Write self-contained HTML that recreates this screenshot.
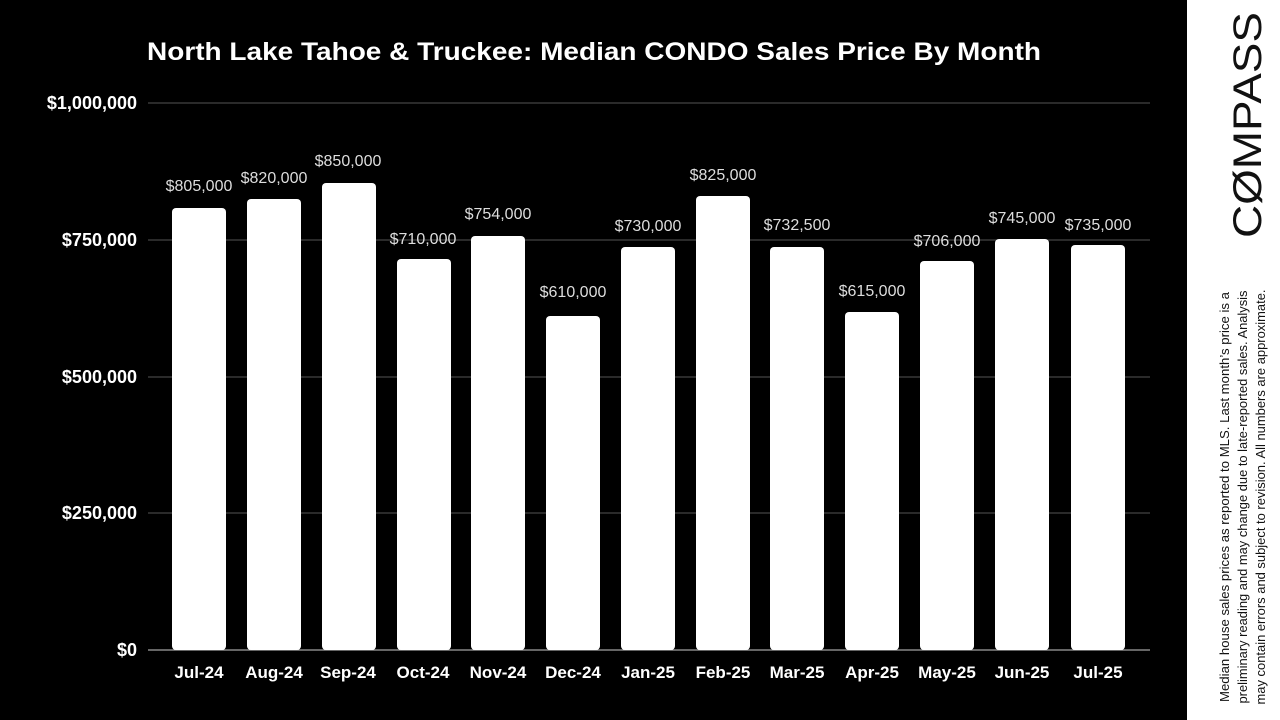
<!DOCTYPE html>
<html><head><meta charset="utf-8"><style>
html,body{margin:0;padding:0;background:#000;width:1280px;height:720px;overflow:hidden}
</style></head><body>
<svg width="1280" height="720" xmlns="http://www.w3.org/2000/svg" font-family="Liberation Sans, Arial, sans-serif">
<rect x="0" y="0" width="1280" height="720" fill="#000"/>
<rect x="1187" y="0" width="93" height="720" fill="#fff"/>
<text x="594" y="60" fill="#fff" font-size="25" font-weight="bold" text-anchor="middle" textLength="894" lengthAdjust="spacingAndGlyphs">North Lake Tahoe &amp; Truckee: Median CONDO Sales Price By Month</text>
<g stroke="#555" stroke-width="1">
<line x1="148" y1="103" x2="1150" y2="103"/>
<line x1="148" y1="240" x2="1150" y2="240"/>
<line x1="148" y1="377" x2="1150" y2="377"/>
<line x1="148" y1="513" x2="1150" y2="513"/>
</g>
<line x1="148" y1="650" x2="1150" y2="650" stroke="#ccc" stroke-width="1"/>
<g fill="#fff" font-size="18" font-weight="bold" text-anchor="end">
<text x="137" y="109">$1,000,000</text>
<text x="137" y="246">$750,000</text>
<text x="137" y="383">$500,000</text>
<text x="137" y="519">$250,000</text>
<text x="137" y="656">$0</text>
</g>
<g fill="#fff" font-size="17" font-weight="bold" text-anchor="middle">
<text x="199" y="678">Jul-24</text><text x="274" y="678">Aug-24</text><text x="348" y="678">Sep-24</text><text x="423" y="678">Oct-24</text><text x="498" y="678">Nov-24</text><text x="573" y="678">Dec-24</text><text x="648" y="678">Jan-25</text><text x="723" y="678">Feb-25</text><text x="797" y="678">Mar-25</text><text x="872" y="678">Apr-25</text><text x="947" y="678">May-25</text><text x="1022" y="678">Jun-25</text><text x="1098" y="678">Jul-25</text>
</g>
<g fill="#fff">
<rect x="172" y="208" width="54" height="442" rx="4"/>
<rect x="247" y="199" width="54" height="451" rx="4"/>
<rect x="322" y="183" width="54" height="467" rx="4"/>
<rect x="397" y="259" width="54" height="391" rx="4"/>
<rect x="471" y="236" width="54" height="414" rx="4"/>
<rect x="546" y="316" width="54" height="334" rx="4"/>
<rect x="621" y="247" width="54" height="403" rx="4"/>
<rect x="696" y="196" width="54" height="454" rx="4"/>
<rect x="770" y="247" width="54" height="403" rx="4"/>
<rect x="845" y="312" width="54" height="338" rx="4"/>
<rect x="920" y="261" width="54" height="389" rx="4"/>
<rect x="995" y="239" width="54" height="411" rx="4"/>
<rect x="1071" y="245" width="54" height="405" rx="4"/>
</g>
<g fill="#ddd" font-size="16" text-anchor="middle">
<text x="199" y="191">$805,000</text>
<text x="274" y="183">$820,000</text>
<text x="348" y="166">$850,000</text>
<text x="423" y="244">$710,000</text>
<text x="498" y="219">$754,000</text>
<text x="573" y="297">$610,000</text>
<text x="648" y="231">$730,000</text>
<text x="723" y="180">$825,000</text>
<text x="797" y="230">$732,500</text>
<text x="872" y="296">$615,000</text>
<text x="947" y="246">$706,000</text>
<text x="1022" y="223">$745,000</text>
<text x="1098" y="230">$735,000</text>
</g>
<text transform="translate(1261,125) rotate(-90)" fill="#111" font-size="40" text-anchor="middle" textLength="226" lengthAdjust="spacingAndGlyphs">CØMPASS</text>
<g transform="translate(1229,497) rotate(-90)" fill="#111" font-size="12.5" text-anchor="middle">
<text x="0" y="0" textLength="410" lengthAdjust="spacingAndGlyphs">Median house sales prices as reported to MLS. Last month’s price is a</text>
<text x="0" y="18" textLength="413" lengthAdjust="spacingAndGlyphs">preliminary reading and may change due to late-reported sales. Analysis</text>
<text x="0" y="36" textLength="415" lengthAdjust="spacingAndGlyphs">may contain errors and subject to revision. All numbers are approximate.</text>
</g>
</svg>
</body></html>
